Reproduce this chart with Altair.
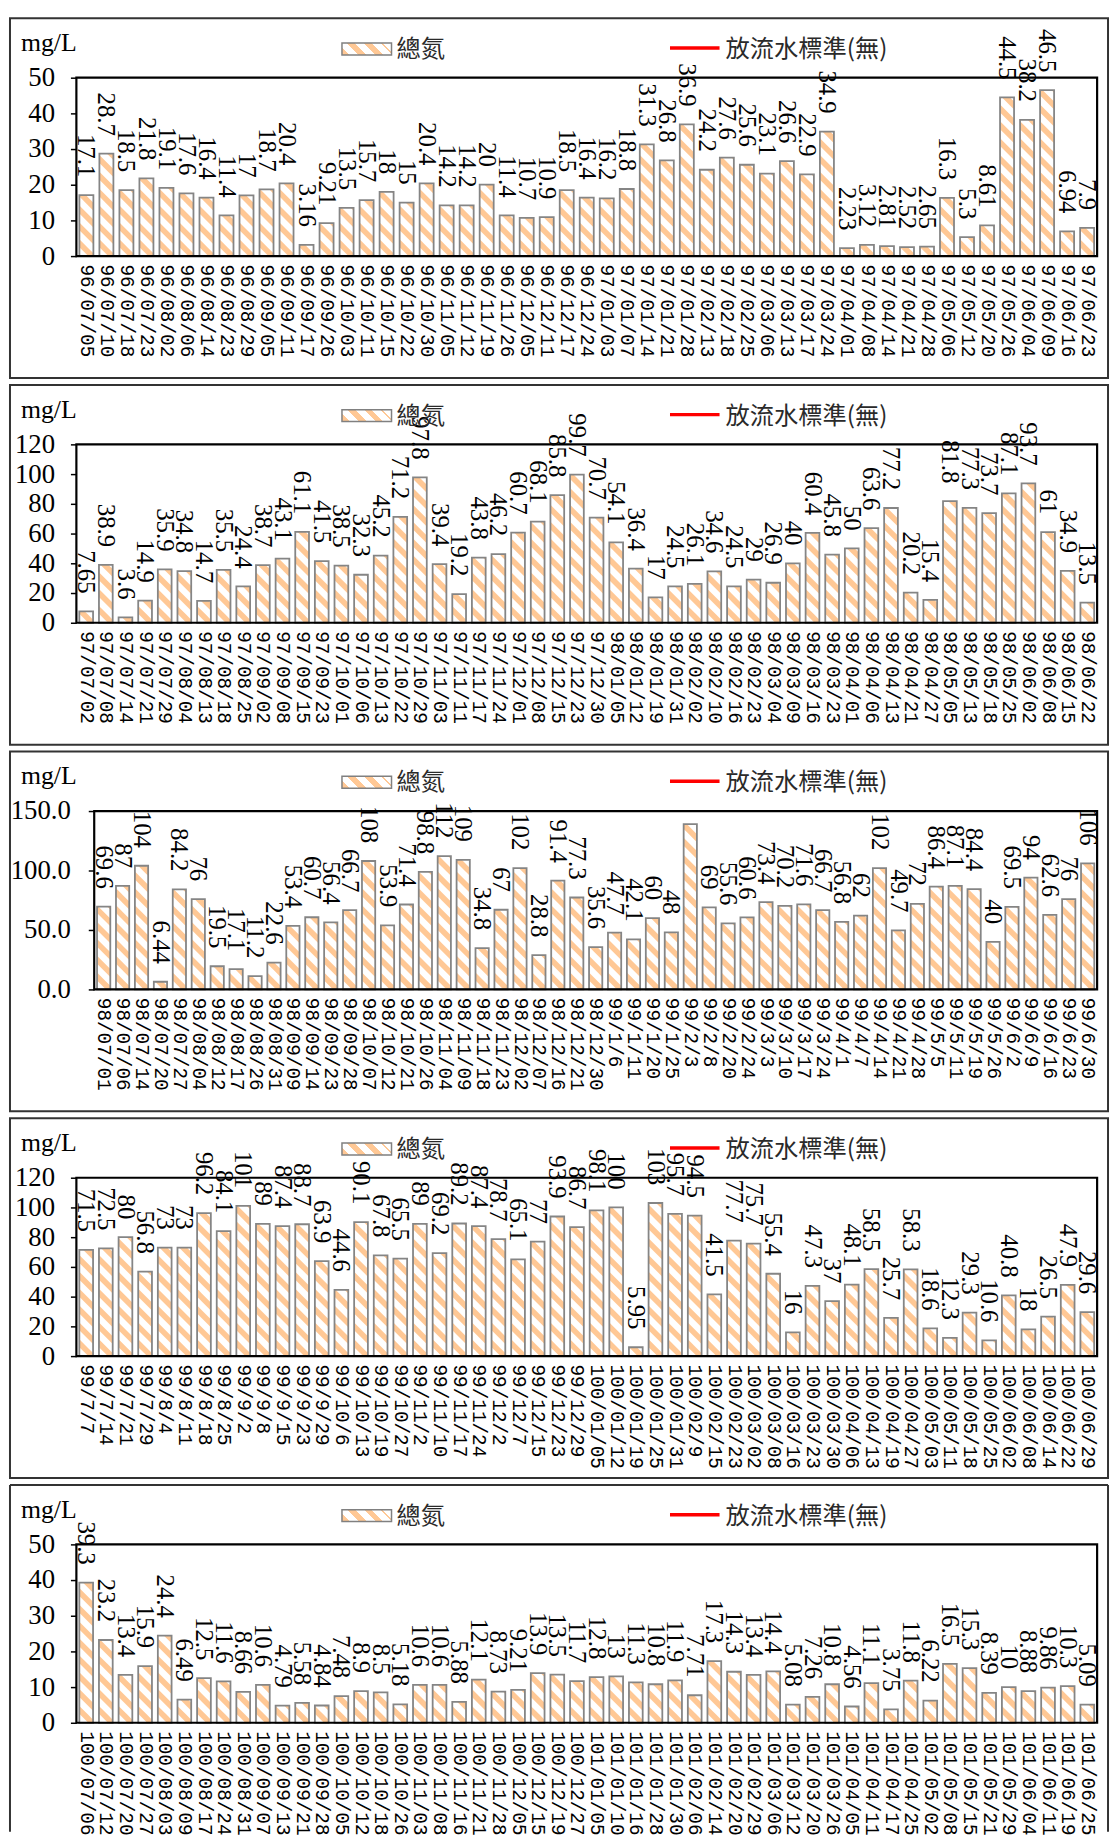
import altair as alt
import pandas as pd

# ---------------- data ----------------
dates_96 = ["96/07/05","96/07/10","96/07/18","96/07/23","96/08/02","96/08/06","96/08/14","96/08/23","96/08/29","96/09/05",
            "96/09/11","96/09/17","96/09/26","96/10/03","96/10/11","96/10/15","96/10/22","96/10/30","96/11/05","96/11/12",
            "96/11/19","96/11/26","96/12/05","96/12/11","96/12/17","96/12/24","97/01/03","97/01/07","97/01/14","97/01/21",
            "97/01/28","97/02/13","97/02/18","97/02/25","97/03/06","97/03/13","97/03/17","97/03/24","97/04/01","97/04/08",
            "97/04/14","97/04/21","97/04/28","97/05/06","97/05/12","97/05/20","97/05/26","97/06/04","97/06/09","97/06/16",
            "97/06/23"]
tn_96 = [17.1,28.7,18.5,21.8,19.1,17.6,16.4,11.4,17,18.7,20.4,3.16,9.21,13.5,15.7,18,15,20.4,14.2,14.2,
         20,11.4,10.7,10.9,18.5,16.4,16.2,18.8,31.3,26.8,36.9,24.2,27.6,25.6,23.1,26.6,22.9,34.9,2.23,3.12,
         2.81,2.52,2.65,16.3,5.3,8.61,44.5,38.2,46.5,6.94,7.9]

dates_97 = ["97/07/02","97/07/08","97/07/14","97/07/21","97/07/29","97/08/04","97/08/13","97/08/18","97/08/25","97/09/02",
            "97/09/08","97/09/15","97/09/23","97/10/01","97/10/06","97/10/13","97/10/22","97/10/29","97/11/03","97/11/11",
            "97/11/17","97/11/24","97/12/01","97/12/08","97/12/15","97/12/23","97/12/30","98/01/05","98/01/12","98/01/19",
            "98/01/31","98/02/02","98/02/10","98/02/16","98/02/23","98/03/04","98/03/09","98/03/16","98/03/23","98/04/01",
            "98/04/06","98/04/13","98/04/21","98/04/27","98/05/05","98/05/13","98/05/18","98/05/25","98/06/02","98/06/08",
            "98/06/15","98/06/22"]
tn_97 = [7.65,38.9,3.6,14.9,35.9,34.8,14.7,35.5,24.4,38.7,43.1,61.1,41.5,38.5,32.3,45.2,71.2,97.8,39.4,19.2,
         43.8,46.2,60.7,68.1,85.8,99.7,70.7,54.1,36.4,17,24.5,26.1,34.6,24.5,29,26.9,40,60.4,45.8,50,
         63.6,77.2,20.2,15.4,81.8,77.3,73.7,87.1,93.7,61,34.9,13.5]

dates_98 = ["98/07/01","98/07/06","98/07/14","98/07/20","98/07/27","98/08/04","98/08/12","98/08/17","98/08/26","98/08/31",
            "98/09/09","98/09/14","98/09/23","98/09/28","98/10/07","98/10/12","98/10/21","98/10/26","98/11/04","98/11/09",
            "98/11/18","98/11/23","98/12/02","98/12/07","98/12/16","98/12/21","98/12/30","99/1/6","99/1/11","99/1/20",
            "99/1/25","99/2/3","99/2/8","99/2/20","99/2/24","99/3/3","99/3/10","99/3/17","99/3/24","99/4/1",
            "99/4/7","99/4/14","99/4/21","99/4/28","99/5/5","99/5/11","99/5/19","99/5/26","99/6/2","99/6/9",
            "99/6/16","99/6/23","99/6/30"]
tn_98 = [69.6,87,104,6.44,84.2,76,19.5,17.1,11.2,22.6,53.4,60.7,56.4,66.7,108,53.9,71.4,98.8,112,109,
         34.8,67,102,28.8,91.4,77.3,35.6,47.7,42.1,60,48,139,69,55.6,60.6,73.4,70.2,71.6,66.7,56.8,
         62,102,49.7,72,86.4,87.1,84.4,40,69.5,94,62.6,76,106]
hidden_98 = ["99/2/3"]   # value label not shown in the original

dates_99 = ["99/7/7","99/7/14","99/7/21","99/7/29","99/8/4","99/8/11","99/8/18","99/8/25","99/9/2","99/9/8",
            "99/9/15","99/9/23","99/9/29","99/10/6","99/10/13","99/10/19","99/10/27","99/11/2","99/11/10","99/11/17",
            "99/11/24","99/12/2","99/12/7","99/12/15","99/12/23","99/12/29","100/01/05","100/01/12","100/01/19","100/01/25",
            "100/01/31","100/02/9","100/02/15","100/02/23","100/03/02","100/03/08","100/03/16","100/03/23","100/03/30","100/04/06",
            "100/04/13","100/04/19","100/04/27","100/05/03","100/05/11","100/05/18","100/05/25","100/06/02","100/06/08","100/06/14",
            "100/06/22","100/06/29"]
tn_99 = [71.5,72.5,80,56.8,73,73,96.2,84.1,101,89,87.4,88.7,63.9,44.6,90.1,67.8,65.5,89,69.2,89.2,
         87.4,78.7,65.1,77,93.9,86.7,98.1,100,5.95,103,95.7,94.5,41.5,77.7,75.7,55.4,16,47.3,37,48.1,
         58.5,25.7,58.3,18.6,12.3,29.3,10.6,40.8,18,26.5,47.9,29.6]

dates_100 = ["100/07/06","100/07/12","100/07/20","100/07/27","100/08/03","100/08/09","100/08/17","100/08/24","100/08/31","100/09/07",
             "100/09/13","100/09/21","100/09/28","100/10/05","100/10/12","100/10/18","100/10/26","100/11/03","100/11/08","100/11/16",
             "100/11/21","100/11/28","100/12/05","100/12/15","100/12/19","100/12/27","101/01/05","101/01/10","101/01/16","101/01/28",
             "101/01/30","101/02/06","101/02/14","101/02/20","101/02/29","101/03/06","101/03/12","101/03/20","101/03/26","101/04/05",
             "101/04/11","101/04/17","101/04/25","101/05/02","101/05/08","101/05/15","101/05/21","101/05/29","101/06/04","101/06/11",
             "101/06/19","101/06/25"]
tn_100 = [39.3,23.2,13.4,15.9,24.4,6.49,12.5,11.6,8.66,10.6,4.79,5.58,4.84,7.48,8.9,8.5,5.18,10.6,10.6,5.88,
          12.1,8.73,9.21,13.9,13.5,11.7,12.8,13,11.3,10.8,11.9,7.71,17.3,14.3,13.4,14.4,5.08,7.26,10.8,4.56,
          11.1,3.75,11.8,6.22,16.5,15.3,8.39,10,8.88,9.86,10.3,5.09]

y_max = [50, 120, 150, 120, 50]
y_step = [10, 20, 50, 20, 10]
y_format = ["d", "d", ".1f", "d", "d"]

unit_label = "mg/L"
legend_bar = "總氮"
legend_line = "放流水標準(無)"

# ---------------- style ----------------
W, H = 1030, 180
ORANGE = "#FFC895"
SERIF = "Liberation Serif"
MONO = "Liberation Mono"
CJK = "Noto Sans CJK TC"
HW = 0.35            # half bar width (index units)
STRIPE_PERIOD = 17   # px
STRIPE_THICK = 8     # px (vertical)


def legend_gradient():
    stops = []
    c = 0.0
    per, th = 0.321, 0.151
    while c < 1.0:
        a, b, e = c, min(c + th, 1.0), min(c + per, 1.0)
        stops += [{"offset": a, "color": ORANGE}, {"offset": b, "color": ORANGE},
                  {"offset": b, "color": "white"}, {"offset": e, "color": "white"}]
        c += per
    return {"gradient": "linear", "x1": 0, "y1": 1, "x2": 1, "y2": 0.76, "stops": stops}


def make_panel(dates, values, hidden, ymax, step, yfmt, x0, last):
    n = len(dates)
    labels = ["" if d in hidden else f"{v:g}" for d, v in zip(dates, values)]
    df = pd.DataFrame({"idx": list(range(n)), "date": dates, "value": values, "label": labels})

    band = (W - x0) / n
    k = ymax / H
    M = band * k
    P = STRIPE_PERIOD * k
    TH = STRIPE_THICK * k
    BW = 2 * HW

    xsc = alt.Scale(domain=[-0.5, n - 0.5], range=[x0, W], nice=False, zero=False)
    ysc = alt.Scale(domain=[0, ymax], nice=False)

    date_expr = "[" + ",".join('"' + d + '"' for d in dates) + "][datum.value]"
    xaxis = alt.Axis(values=list(range(n)), labelExpr=date_expr, labelAngle=90,
                     labelAlign="left", labelBaseline="middle", labelPadding=8,
                     labelFont=MONO, labelFontSize=19.5, labelColor="black",
                     labelOverlap=False, labelFlush=False, labelBound=False,
                     ticks=False, domain=False, grid=False, title=None)
    yaxis = alt.Axis(values=list(range(0, ymax + 1, step)), format=yfmt,
                     labelFont=SERIF, labelFontSize=27, labelColor="black",
                     labelPadding=16 if x0 == 0 else 18, tickSize=6, tickColor="black",
                     tickWidth=1.5, domain=False, grid=False, offset=-x0, title=None)

    stripes = alt.Chart(df).transform_calculate(
        ks=f"sequence(0, ceil((datum.value + {TH} + {M * BW}) / {P}) + 1)"
    ).transform_flatten(["ks"]).transform_calculate(
        js="sequence(0, 6)"
    ).transform_flatten(["js"]).transform_calculate(
        a=f"datum.ks * {P}"
    ).transform_calculate(
        uraw=(f"datum.js == 0 ? 0 : datum.js == 1 ? {BW} : datum.js == 2 ? (datum.a - datum.value) / {M} : "
              f"datum.js == 3 ? (datum.a - {TH}) / {M} : datum.js == 4 ? datum.a / {M} : "
              f"(datum.a - {TH} - datum.value) / {M}")
    ).transform_calculate(
        u=f"clamp(datum.uraw, 0, {BW})"
    ).transform_calculate(
        xs=f"datum.idx - {HW} + datum.u",
        ytop=f"clamp(min(datum.value, datum.a - {M} * datum.u), 0, datum.value)",
        ybot=f"clamp(max(0, datum.a - {TH} - {M} * datum.u), 0, datum.value)",
        sid="datum.idx * 1000 + datum.ks",
    ).mark_area(color=ORANGE, interpolate="linear", strokeWidth=0).encode(
        x=alt.X("xs:Q", scale=xsc, axis=xaxis),
        y=alt.Y("ytop:Q", scale=ysc, axis=yaxis, stack=None),
        y2="ybot:Q",
        detail="sid:N",
    )

    bars = alt.Chart(df).transform_calculate(
        xl=f"datum.idx - {HW}", xr=f"datum.idx + {HW}", zero="0"
    ).mark_rect(fill="transparent", stroke="#858585", strokeWidth=1.8).encode(
        x=alt.X("xl:Q", scale=xsc, axis=xaxis),
        x2="xr:Q",
        y=alt.Y("value:Q", scale=ysc, axis=yaxis),
        y2="zero:Q",
    )

    texts = alt.Chart(df).mark_text(angle=90, align="right", baseline="middle", dx=-18,
                                    font=SERIF, fontSize=25, color="black").encode(
        x=alt.X("idx:Q", scale=xsc, axis=xaxis),
        y=alt.Y("value:Q", scale=ysc, axis=yaxis),
        text="label:N",
    )

    one = alt.Chart(alt.Data(values=[{}]))
    box = one.mark_rect(fill="transparent", stroke="black", strokeWidth=2.2).encode(
        x=alt.value(x0), x2=alt.value(W), y=alt.value(0), y2=alt.value(H))

    if last:
        frame = [
            one.mark_rule(color="#333333", strokeWidth=2).encode(
                x=alt.value(-67), y=alt.value(-60), y2=alt.value(290)),
            one.mark_rule(color="#333333", strokeWidth=2).encode(
                x=alt.value(1041), y=alt.value(-60), y2=alt.value(290)),
            one.mark_rule(color="#333333", strokeWidth=2).encode(
                x=alt.value(-67), x2=alt.value(1041), y=alt.value(-60)),
        ]
    else:
        frame = [one.mark_rect(fill="transparent", stroke="#333333", strokeWidth=2).encode(
            x=alt.value(-67), x2=alt.value(1041), y=alt.value(-60), y2=alt.value(303))]

    unit = one.mark_text(text=unit_label, align="left", baseline="middle", font=SERIF,
                         fontSize=26, color="black").encode(x=alt.value(-56), y=alt.value(-35))
    swatch = one.mark_rect(fill=legend_gradient(), stroke="#808080", strokeWidth=1.5).encode(
        x=alt.value(268), x2=alt.value(318), y=alt.value(-35), y2=alt.value(-23))
    leg1 = one.mark_text(text=legend_bar, align="left", baseline="middle", font=CJK,
                         fontSize=24.5, color="#2a2a2a").encode(x=alt.value(323), y=alt.value(-28))
    redline = one.mark_rule(color="#FF0000", strokeWidth=3.5).encode(
        x=alt.value(599), x2=alt.value(649), y=alt.value(-30))
    leg2 = one.mark_text(text=legend_line, align="left", baseline="middle", font=CJK,
                         fontSize=24.5, color="#2a2a2a").encode(x=alt.value(655), y=alt.value(-28))

    return alt.layer(stripes, bars, texts, *frame, box, unit, swatch, leg1, redline, leg2).properties(
        width=W, height=H)


panels = [
    make_panel(dates_96, tn_96, [], y_max[0], y_step[0], y_format[0], 0, False),
    make_panel(dates_97, tn_97, [], y_max[1], y_step[1], y_format[1], 0, False),
    make_panel(dates_98, tn_98, hidden_98, y_max[2], y_step[2], y_format[2], 18, False),
    make_panel(dates_99, tn_99, [], y_max[3], y_step[3], y_format[3], 0, False),
    make_panel(dates_100, tn_100, [], y_max[4], y_step[4], y_format[4], 0, True),
]

chart = alt.vconcat(*panels, spacing=3).properties(padding=0).configure_view(stroke="transparent")
chart.save("out.html", embed_options={"renderer": "svg", "actions": False})
